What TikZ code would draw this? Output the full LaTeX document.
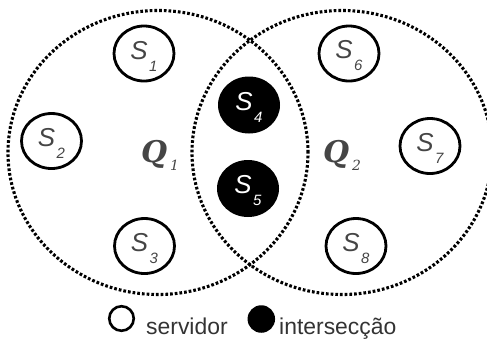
\documentclass[tikz,border=0pt]{standalone}
\usepackage{fontspec}
\setmainfont{Liberation Sans}
\newfontfamily\serifQ{DejaVu Serif}
\usetikzlibrary{shapes.geometric}
\definecolor{lbl}{HTML}{454545}
\definecolor{legtxt}{HTML}{333333}
\newcommand\sublbl[1]{\kern1.5bp\raisebox{-12bp}{\fontsize{15}{15}\selectfont #1}}
\newcommand\subq[1]{\kern3bp\raisebox{-8bp}{\fontsize{14}{14}\selectfont\mdseries #1}}
\begin{document}
\begin{tikzpicture}[x=1bp,y=-1bp,
  region/.style={draw, ellipse, line width=3.1bp, dash pattern=on 2.7bp off 2.0bp,
    minimum width=300bp, minimum height=284bp, inner sep=0},
  srv/.style={draw, ellipse, line width=2.8bp, minimum width=60bp, minimum height=55bp, inner sep=0},
  inter/.style={ellipse, fill=black, minimum width=62bp, minimum height=57bp, inner sep=0},
  slab/.style={text=lbl, font=\fontsize{26}{26}\selectfont\itshape, inner sep=0},
  wlab/.style={slab, text=white},
  qlab/.style={text=lbl, font=\fontsize{30}{30}\selectfont\serifQ\bfseries\itshape, inner sep=0},
  legtext/.style={text=legtxt, font=\fontsize{23}{23}\selectfont, inner sep=0, anchor=base west}
]
\useasboundingbox (0,0) rectangle (487,338);
% regions
\node[region] (Q1) at (158,152.5) {};
\node[region] (Q2) at (342,152.5) {};
% servers
\node[srv] (s1) at (144,53.5) {};
\node[srv] (s2) at (51.5,141) {};
\node[srv] (s3) at (144.5,246) {};
\node[inter] (s4) at (249,105) {};
\node[inter] (s5) at (248,188.5) {};
\node[srv] (s6) at (349,53.5) {};
\node[srv] (s7) at (430,146) {};
\node[srv] (s8) at (356,246) {};
% labels
\node[slab] (l1) at ([yshift=-2.5bp]s1) {S\sublbl{1}};
\node[slab] (l2) at ([yshift=-2.5bp]s2) {S\sublbl{2}};
\node[slab] (l3) at ([yshift=-2.5bp]s3) {S\sublbl{3}};
\node[wlab] (l4) at ([yshift=-2.5bp]s4) {S\sublbl{4}};
\node[wlab] (l5) at ([yshift=-2.5bp]s5) {S\sublbl{5}};
\node[slab] (l6) at ([yshift=-2.5bp]s6) {S\sublbl{6}};
\node[slab] (l7) at ([yshift=-2.5bp]s7) {S\sublbl{7}};
\node[slab] (l8) at ([yshift=-2.5bp]s8) {S\sublbl{8}};
\node[qlab] (lq1) at (160,155) {Q\subq{1}};
\node[qlab] (lq2) at (342,155) {Q\subq{2}};
% legend
\node[draw, circle, line width=2.6bp, minimum size=24.5bp, inner sep=0] (legs) at (121.5,318.5) {};
\node[legtext] (legst) at (146,334) {servidor};
\node[circle, fill=black, minimum size=27.5bp, inner sep=0] (legi) at (261.3,319) {};
\node[legtext] (legit) at (279,334) {intersecção};
\end{tikzpicture}
\end{document}
